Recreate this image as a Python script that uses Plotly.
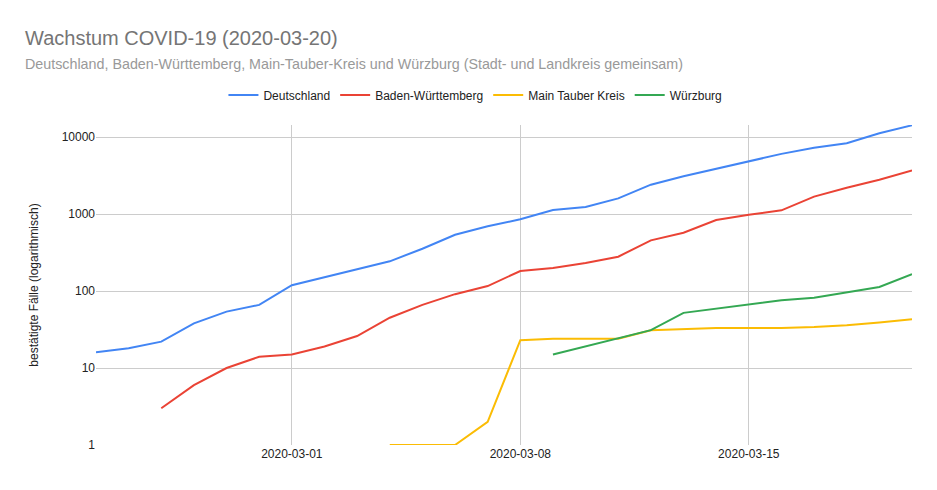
import plotly.graph_objects as go

## DATA
dates = ['2020-02-24', '2020-02-25', '2020-02-26', '2020-02-27', '2020-02-28', '2020-02-29',
         '2020-03-01', '2020-03-02', '2020-03-03', '2020-03-04', '2020-03-05', '2020-03-06',
         '2020-03-07', '2020-03-08', '2020-03-09', '2020-03-10', '2020-03-11', '2020-03-12',
         '2020-03-13', '2020-03-14', '2020-03-15', '2020-03-16', '2020-03-17', '2020-03-18',
         '2020-03-19', '2020-03-20']

deutschland = [16, 18, 22, 38, 54, 66, 119, 152, 191, 243, 354, 538, 692, 853,
               1127, 1233, 1597, 2404, 3090, 3890, 4880, 6040, 7240, 8280, 11170, 14200]

baden_wuerttemberg = [None, None, 3, 6, 10, 14, 15, 19, 26, 45, 66, 91, 116, 182,
                      199, 231, 279, 455, 571, 836, 979, 1117, 1680, 2198, 2792, 3690]

main_tauber = [None, None, None, None, None, None, None, None, None, 1, 1, 1, 2, 23,
               24, 24, 24, 31, 32, 33, 33, 33, 34, 36, 39, 43]

wuerzburg = [None, None, None, None, None, None, None, None, None, None, None, None, None, None,
             15, 19, 24, 31, 52, 59, 66, 76, 82, 96, 113, 166]

series_names = ['Deutschland', 'Baden-Württemberg', 'Main Tauber Kreis', 'Würzburg']
series_colors = ['#4285F4', '#EA4335', '#FBBC04', '#34A853']

y_ticks = [1, 10, 100, 1000, 10000]
y_ticktext = ['1', '10', '100', '1000', '10000']

## PLOTTING
fig = go.Figure()

for name, vals, col in zip(series_names,
                           [deutschland, baden_wuerttemberg, main_tauber, wuerzburg],
                           series_colors):
    fig.add_trace(go.Scatter(
        x=dates, y=vals, name=name, mode='lines',
        line=dict(color=col, width=2),
        connectgaps=False))

# page body adds 8px offset, so margins are shifted by 8px
fig.update_layout(
    width=937, height=490,
    margin=dict(l=88, r=33, t=117, b=53),
    paper_bgcolor='white', plot_bgcolor='white',
    font=dict(family='Arial, Liberation Sans, sans-serif', size=12, color='#444444'),
    legend=dict(orientation='h', x=0.465, xanchor='center', y=1.094, yanchor='middle',
                font=dict(size=12, color='#222222'), itemwidth=30),
    annotations=[
        dict(text='Wachstum COVID-19 (2020-03-20)', xref='paper', yref='paper',
             x=-0.089, y=1.272, xanchor='left', yanchor='middle', showarrow=False,
             font=dict(size=20, color='#757575')),
        dict(text='Deutschland, Baden-Württemberg, Main-Tauber-Kreis und Würzburg (Stadt- und Landkreis gemeinsam)',
             xref='paper', yref='paper', x=-0.089, y=1.191, xanchor='left', yanchor='middle',
             showarrow=False, font=dict(size=14.3, color='#999999')),
    ],
)

fig.update_xaxes(
    type='date', range=['2020-02-24', '2020-03-20'],
    tick0='2020-03-01', dtick=7 * 86400000, tickformat='%Y-%m-%d',
    showgrid=True, gridcolor='#cccccc', gridwidth=1,
    showline=False, zeroline=False, ticks='',
    tickfont=dict(size=12, color='#222222'))

fig.update_yaxes(
    type='log', range=[0, 4.156],
    tickvals=y_ticks, ticktext=y_ticktext,
    showgrid=True, gridcolor='#cccccc', gridwidth=1,
    showline=False, zeroline=False, ticks='',
    tickfont=dict(size=12, color='#222222'),
    title=dict(text='bestätigte Fälle (logarithmisch)', font=dict(size=12, color='#222222'), standoff=20))

fig.show()
fig.write_html("out.html")
